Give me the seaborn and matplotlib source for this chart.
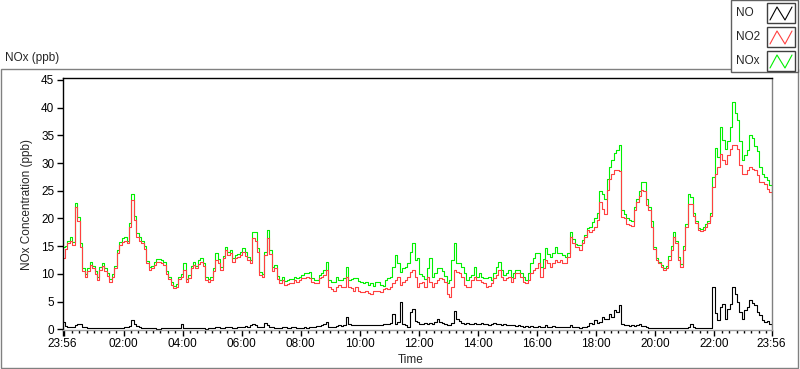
import matplotlib
matplotlib.use("Agg")
import matplotlib.pyplot as plt
import numpy as np
import pandas as pd
import seaborn as sns
from matplotlib.lines import Line2D
from matplotlib.patches import Rectangle

# one reading every 5 minutes, starting 23:56 of the previous day
STEP_MIN = 5
START_MIN = -4

no2 = [
    12.8, 14.5, 15.5, 16.0, 15.2, 22.0, 19.5, 14.9, 10.5, 9.5,
    10.5, 11.6, 11.0, 10.0, 8.9, 10.7, 11.5, 10.5, 9.6, 8.5,
    9.5, 11.0, 13.7, 15.2, 15.8, 16.0, 15.5, 18.5, 23.3, 19.7,
    16.7, 16.0, 15.5, 14.5, 11.9, 10.7, 11.0, 11.6, 12.2, 12.2,
    12.0, 11.6, 10.0, 9.0, 8.0, 7.4, 7.6, 9.0, 9.5, 10.7,
    8.5, 9.3, 11.0, 11.6, 11.0, 11.8, 12.2, 11.5, 8.9, 8.5,
    8.9, 10.5, 12.5, 12.0, 10.7, 12.8, 14.3, 13.4, 13.7, 12.2,
    12.8, 13.0, 13.4, 14.0, 13.3, 12.5, 11.9, 16.4, 16.0, 14.0,
    9.8, 9.5, 13.4, 16.5, 13.5, 10.5, 11.0, 9.0, 8.3, 8.9,
    8.0, 8.2, 8.3, 8.3, 8.9, 8.6, 8.9, 9.2, 9.3, 9.5,
    9.2, 8.6, 8.3, 8.3, 9.2, 9.5, 9.8, 10.7, 7.6, 7.2,
    7.0, 7.6, 8.0, 7.6, 7.6, 9.5, 7.6, 7.4, 7.0, 7.6,
    7.0, 6.7, 6.7, 7.0, 6.6, 6.4, 7.0, 7.0, 7.0, 6.7,
    7.2, 7.4, 7.3, 7.6, 8.3, 8.9, 9.5, 8.0, 8.6, 8.9,
    9.5, 10.4, 10.7, 9.5, 7.6, 8.3, 8.6, 7.6, 9.5, 8.5,
    7.6, 8.3, 8.9, 9.2, 9.0, 8.6, 6.4, 5.8, 7.6, 10.7,
    10.4, 10.1, 9.5, 8.0, 7.6, 7.6, 8.9, 9.5, 8.9, 8.9,
    8.6, 8.3, 7.6, 7.8, 8.3, 9.2, 9.8, 10.7, 9.5, 8.9,
    9.2, 9.5, 8.6, 9.2, 10.1, 10.1, 9.5, 8.6, 8.3, 8.9,
    10.1, 10.7, 11.0, 11.9, 9.5, 11.0, 12.5, 12.0, 11.3, 12.0,
    12.5, 12.2, 12.5, 11.9, 11.9, 13.1, 16.7, 15.5, 14.9, 14.9,
    14.3, 15.5, 16.7, 17.9, 17.5, 18.0, 18.5, 19.7, 23.0, 21.7,
    20.9, 25.1, 27.2, 28.0, 28.7, 28.7, 28.5, 20.3, 20.0, 19.0,
    18.8, 18.7, 21.5, 23.0, 24.0, 25.1, 25.0, 22.4, 21.5, 18.5,
    14.5, 12.5, 11.9, 11.3, 10.7, 11.0, 12.5, 14.3, 16.7, 15.5,
    12.5, 11.3, 14.3, 18.5, 22.7, 22.7, 20.5, 19.1, 17.9, 17.7,
    18.0, 18.5, 19.1, 20.5, 25.7, 28.1, 29.3, 31.7, 30.5, 29.9,
    31.4, 32.6, 33.2, 33.2, 32.6, 29.6, 28.1, 28.1, 28.7, 29.3,
    29.0, 28.7, 27.8, 26.6, 26.5, 26.3, 25.4, 24.8, 23.3,
]

nox = [
    14.9, 15.0, 16.0, 16.6, 15.8, 22.8, 20.3, 15.5, 11.0, 10.0,
    11.0, 12.1, 11.5, 10.5, 9.4, 11.3, 12.0, 11.0, 10.1, 9.0,
    10.0, 11.5, 14.3, 15.8, 16.5, 16.6, 16.0, 19.2, 24.5, 20.5,
    17.3, 16.6, 16.0, 15.0, 12.4, 11.2, 11.5, 12.1, 12.7, 12.7,
    12.5, 12.1, 10.5, 9.5, 8.5, 7.9, 8.1, 9.5, 10.0, 12.0,
    9.0, 9.8, 11.5, 12.2, 11.5, 12.5, 12.8, 12.0, 9.4, 9.0,
    9.4, 11.0, 13.8, 12.6, 11.2, 13.3, 14.8, 14.0, 14.3, 12.8,
    13.4, 13.6, 14.0, 14.6, 13.9, 13.0, 12.5, 17.5, 17.6, 14.6,
    10.4, 10.0, 14.0, 17.9, 14.3, 11.2, 11.6, 9.6, 8.9, 9.5,
    8.7, 8.9, 9.0, 9.0, 9.5, 9.3, 9.5, 9.8, 10.1, 10.1,
    10.4, 9.2, 8.9, 8.9, 9.8, 10.1, 10.7, 12.2, 8.9, 8.6,
    8.6, 9.5, 8.9, 8.9, 9.2, 11.3, 8.9, 9.0, 9.2, 9.2,
    8.8, 8.6, 8.3, 8.6, 8.0, 8.3, 7.8, 8.6, 8.6, 8.0,
    7.8, 8.9, 9.2, 9.5, 11.3, 13.4, 11.9, 10.4, 11.0, 11.3,
    11.9, 14.0, 15.5, 12.5, 12.8, 10.0, 9.6, 9.0, 11.0, 12.8,
    9.4, 10.1, 11.0, 11.0, 10.5, 9.6, 8.3, 8.9, 12.5, 15.5,
    11.9, 11.9, 11.3, 10.1, 8.9, 9.5, 9.8, 11.3, 9.5, 10.1,
    9.5, 9.2, 9.2, 9.5, 8.9, 10.1, 11.3, 12.2, 10.7, 9.8,
    10.1, 10.7, 9.5, 10.1, 10.7, 10.7, 10.1, 9.5, 8.9, 10.1,
    11.9, 12.8, 13.7, 13.7, 11.3, 12.6, 14.6, 13.5, 13.1, 13.8,
    14.9, 13.7, 13.7, 13.4, 13.1, 13.7, 17.5, 16.3, 15.4, 15.2,
    15.2, 16.1, 17.1, 18.3, 18.5, 19.3, 20.0, 21.0, 25.0, 24.5,
    23.5, 27.2, 29.3, 30.5, 31.8, 32.3, 33.2, 21.5, 20.8, 20.0,
    19.8, 19.6, 22.0, 23.5, 25.0, 26.6, 26.6, 23.5, 22.0, 19.5,
    14.8, 12.8, 12.2, 11.6, 11.0, 11.5, 13.3, 15.0, 17.5, 16.0,
    13.0, 11.8, 15.0, 19.0, 24.5, 23.8, 21.0, 19.6, 18.3, 18.1,
    18.5, 19.0, 19.6, 21.0, 27.5, 32.7, 31.1, 36.5, 34.2, 32.5,
    34.0, 36.5, 41.0, 39.0, 37.8, 33.9, 30.5, 31.4, 32.4, 35.1,
    34.5, 33.0, 32.1, 29.3, 28.0, 27.5, 26.9, 26.0, 24.0,
]

no = [
    1.3, 0.6, 0.4, 0.4, 0.5, 0.8, 1.0, 0.9, 0.4, 0.5,
    0.3, 0.3, 0.2, 0.3, 0.3, 0.2, 0.2, 0.3, 0.3, 0.2,
    0.2, 0.3, 0.3, 0.2, 0.3, 0.4, 0.4, 0.6, 1.7, 1.0,
    0.6, 0.4, 0.3, 0.3, 0.2, 0.2, 0.2, 0.2, 0.1, 0.1,
    0.2, 0.2, 0.2, 0.2, 0.2, 0.2, 0.2, 0.2, 0.9, 0.3,
    0.2, 0.3, 0.3, 0.2, 0.2, 0.3, 0.2, 0.2, 0.1, 0.2,
    0.2, 0.3, 0.5, 0.4, 0.3, 0.3, 0.4, 0.5, 0.5, 0.3,
    0.3, 0.4, 0.4, 0.5, 0.6, 0.5, 0.7, 1.0, 0.8, 0.5,
    0.4, 0.5, 1.1, 0.8, 0.5, 0.4, 0.3, 0.3, 0.3, 0.4,
    0.4, 0.3, 0.3, 0.4, 0.4, 0.3, 0.3, 0.3, 0.4, 0.3,
    0.5, 0.5, 0.5, 0.6, 0.6, 0.7, 1.0, 1.3, 0.5, 0.4,
    0.5, 0.6, 0.7, 0.6, 0.7, 2.2, 1.0, 0.8, 0.8, 0.7,
    0.7, 0.8, 0.7, 0.7, 0.8, 0.7, 0.7, 0.8, 0.8, 0.7,
    1.0, 1.0, 1.0, 1.1, 2.8, 1.0, 1.3, 4.9, 1.0, 0.8,
    0.5, 3.1, 3.7, 1.5, 1.3, 1.0, 1.0, 1.1, 1.0, 1.2,
    1.0, 1.3, 1.9, 1.3, 1.2, 1.0, 0.7, 0.8, 1.2, 3.3,
    1.8, 1.5, 1.2, 1.0, 1.1, 0.9, 1.0, 1.2, 1.0, 0.9,
    1.2, 0.9, 1.0, 0.8, 1.0, 1.2, 1.0, 0.9, 0.8, 0.9,
    0.8, 0.7, 0.7, 0.8, 0.6, 0.7, 0.6, 0.5, 0.6, 0.5,
    0.6, 0.5, 0.5, 0.6, 0.4, 0.5, 0.7, 0.5, 0.5, 0.6,
    0.5, 0.4, 0.5, 0.4, 0.4, 0.5, 0.8, 0.5, 0.4, 0.4,
    0.3, 0.4, 0.5, 0.6, 1.2, 0.9, 1.6, 1.2, 1.3, 2.2,
    1.9, 1.9, 2.8, 2.2, 3.5, 3.1, 4.3, 1.0, 0.8, 0.7,
    0.6, 0.7, 0.6, 0.8, 1.0, 0.6, 0.6, 0.5, 0.3, 0.2,
    0.2, 0.2, 0.2, 0.2, 0.3, 0.2, 0.2, 0.2, 0.3, 0.2,
    0.2, 0.2, 0.2, 0.2, 0.4, 1.0, 0.4, 0.2, 0.2, 0.2,
    0.2, 0.2, 0.3, 0.3, 7.6, 3.0, 1.6, 4.0, 4.6, 1.9,
    3.7, 4.6, 7.6, 6.4, 5.0, 3.1, 1.9, 3.4, 4.0, 5.2,
    4.8, 4.3, 3.1, 2.5, 1.6, 1.3, 1.5, 0.9, 0.4,
]

series_names = ["NO", "NO2", "NOx"]
series_colors = {"NO": "black", "NO2": "#ff4040", "NOx": "#00f000"}

x_major_minutes = [-4, 0, 120, 240, 360, 480, 600, 720, 840, 960, 1080, 1200, 1320, 1436]
x_major_labels = ["23:56", "", "02:00", "04:00", "06:00", "08:00", "10:00", "12:00",
                  "14:00", "16:00", "18:00", "20:00", "22:00", "23:56"]
y_ticks = [0, 5, 10, 15, 20, 25, 30, 35, 40, 45]

W, H = 800, 369


def fx(px):
    return px / W


def fy(py):
    return 1 - py / H


n = len(no2)
minutes = START_MIN + STEP_MIN * np.arange(n)
df = pd.DataFrame({
    "minute": np.tile(minutes, 3),
    "ppb": nox + no2 + no,
    "series": ["NOx"] * n + ["NO2"] * n + ["NO"] * n,
})

sns.set_theme(style="white")
plt.rcParams["font.family"] = ["Liberation Sans", "DejaVu Sans"]

fig = plt.figure(figsize=(W / 100, H / 100), dpi=100)
fig.patch.set_facecolor("white")

# outer panel frame and panel caption
fig.add_artist(Rectangle((fx(1), fy(368)), fx(797), 299 / H, transform=fig.transFigure,
                         fill=False, edgecolor="#808080", lw=1))
fig.text(fx(5), fy(58), "NOx (ppb)", ha="left", va="center", fontsize=8.5)

ax = fig.add_axes([fx(62.5), fy(330), fx(709), 252 / H])
sns.lineplot(data=df, x="minute", y="ppb", hue="series", hue_order=["NOx", "NO2", "NO"],
             palette=series_colors, drawstyle="steps-post", linewidth=0.8,
             estimator=None, legend=False, ax=ax)

ax.set_xlim(-4, 1436)
ax.set_ylim(-0.13, 45.36)
ax.set_yticks(y_ticks)
ax.set_xticks(x_major_minutes)
ax.set_xticklabels(x_major_labels)
ax.set_xticks([m for m in range(15, 1436, 15) if m % 120], minor=True)
ax.tick_params(axis="both", which="major", direction="out", length=4, width=1,
               colors="black", labelsize=8.5, pad=2, bottom=True, left=True)
ax.tick_params(axis="x", which="minor", direction="out", length=2.5, width=1,
               colors="black", bottom=True)

for side, col in [("top", "black"), ("left", "black"), ("right", "#808080"), ("bottom", "#a0a0a0")]:
    ax.spines[side].set_visible(True)
    ax.spines[side].set_color(col)
    ax.spines[side].set_linewidth(1)

ax.set_ylabel("NOx Concentration (ppb)", fontsize=8.5)
ax.yaxis.set_label_coords(-0.0416, 0.5)
ax.set_xlabel("Time", fontsize=8.5)
ax.xaxis.set_label_coords(0.4915, -0.095)
ax.xaxis.label.set_va("top")

# legend box in the top-right corner, LabVIEW style
fig.add_artist(Rectangle((fx(731), fy(72)), fx(67), 72 / H, transform=fig.transFigure,
                         facecolor="white", edgecolor="#606060", lw=1, zorder=5))
for k, name in enumerate(series_names):
    top = 3 + 24 * k
    fig.text(fx(736), fy(top + 10), name, ha="left", va="center", fontsize=8.5, zorder=6)
    fig.add_artist(Rectangle((fx(767), fy(top + 20)), fx(28), 20 / H, transform=fig.transFigure,
                             facecolor="white", edgecolor="#404040", lw=1, zorder=6))
    gx = [770, 777, 785, 792]
    gy = [top + 17, top + 4, top + 17, top + 4]
    fig.add_artist(Line2D([fx(v) for v in gx], [fy(v) for v in gy], transform=fig.transFigure,
                          color=series_colors[name], lw=0.8, zorder=7))

fig.savefig("out.png", dpi=100)
